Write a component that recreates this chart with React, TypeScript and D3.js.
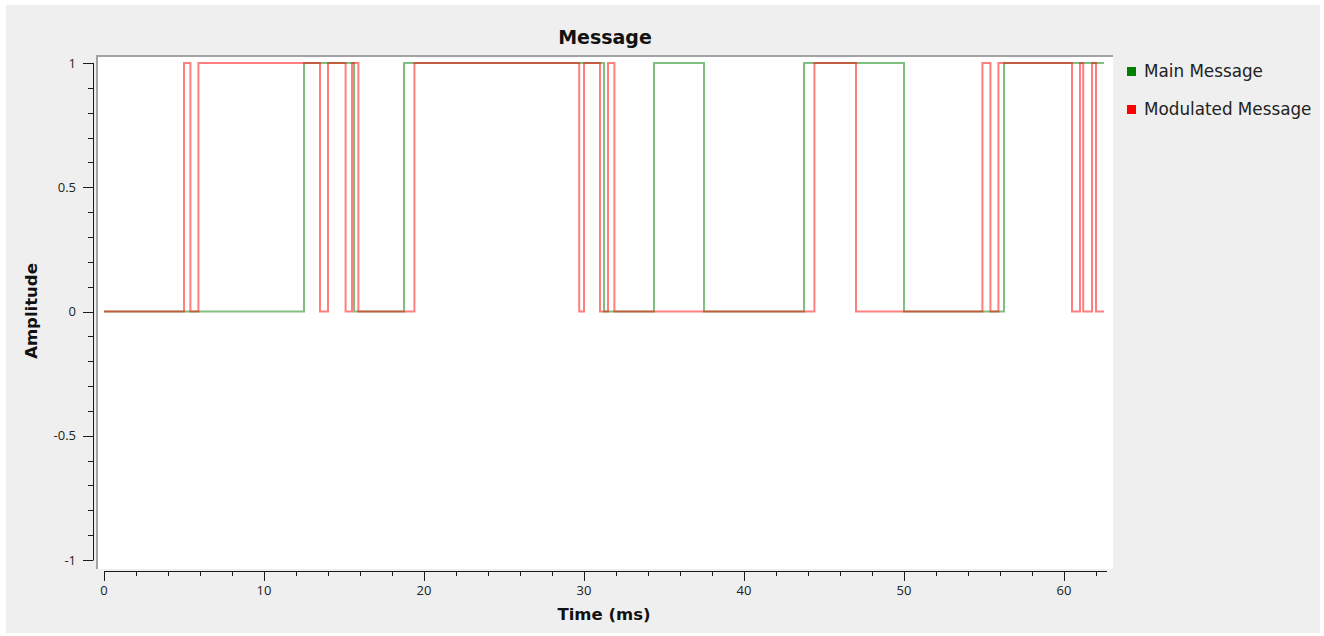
import React from "react";
import * as d3 from "d3";

const mainTimes = [0, 12.5, 15.625, 18.75, 31.25, 34.375, 37.5, 43.75, 50, 56.25, 62.5];
const mainLevels = [0, 1, 0, 1, 0, 1, 0, 1, 0, 1, 1];

const modTimes = [0, 5.0, 5.4, 5.9, 13.5, 14.0, 15.1, 15.5, 15.9, 19.4, 29.7, 30.0, 31.0, 31.5, 31.9, 44.4, 47.0, 54.9, 55.4, 55.9, 60.5, 61.0, 61.2, 61.75, 62.0, 62.5];
const modLevels = [0, 1, 0, 1, 0, 1, 0, 1, 0, 1, 0, 1, 0, 1, 0, 1, 0, 1, 0, 1, 0, 1, 0, 1, 0, 0];

const xMajorTicks = [0, 10, 20, 30, 40, 50, 60];
const yMajorTicks = [1, 0.5, 0, -0.5, -1];
const yTickLabels = ["1", "0.5", "0", "-0.5", "-1"];

const seriesNames = ["Main Message", "Modulated Message"];
const seriesColors = ["rgb(0,128,0)", "rgb(255,0,0)"];

const W = 1324;
const H = 636;

export default function App() {
  const x = d3.scaleLinear().domain([0, 62.5]).range([104, 1104]);
  const y = d3.scaleLinear().domain([-1, 1]).range([560, 63]);

  const line = d3
    .line<[number, number]>()
    .x((d) => x(d[0]))
    .y((d) => y(d[1]))
    .curve(d3.curveStepAfter);

  const mainPts: [number, number][] = mainTimes.map((t, i) => [t, mainLevels[i]]);
  const modPts: [number, number][] = modTimes.map((t, i) => [t, modLevels[i]]);

  const xMinor = d3.range(0, 63, 2).filter((v) => v % 10 !== 0);
  const yMinor = d3.range(-10, 11).map((v) => v / 10).filter((v) => Math.abs(v * 2 - Math.round(v * 2)) > 1e-6);

  const font = "'Open Sans', 'DejaVu Sans', sans-serif";
  const boldFont = "'DejaVu Sans', sans-serif";
  const tickColor = "#1a1a1a";

  return (
    <div style={{ position: "absolute", left: 0, top: 0 }}>
      <svg width={W} height={H} style={{ display: "block" }}>
        <rect x={0} y={0} width={W} height={H} fill="#ffffff" />
        <rect x={6} y={5} width={1314} height={628} fill="#efefef" />
        {/* canvas */}
        <rect x={97} y={56} width={1016} height={513} fill="#ffffff" />
        <line x1={96} y1={56} x2={1113} y2={56} stroke="#a3a3a3" strokeWidth={2} />
        <line x1={97} y1={55} x2={97} y2={569} stroke="#a3a3a3" strokeWidth={2} />

        {/* title */}
        <text x={605} y={44} textAnchor="middle" fontFamily={boldFont} fontWeight="bold" fontSize={19} fill="#111">
          Message
        </text>

        {/* y axis */}
        <line x1={93.5} y1={y(1)} x2={93.5} y2={y(-1)} stroke={tickColor} strokeWidth={1} />
        {yMajorTicks.map((v, i) => (
          <g key={"ym" + i}>
            <line x1={83} x2={93.5} y1={Math.round(y(v)) + 0.5} y2={Math.round(y(v)) + 0.5} stroke={tickColor} />
            <text x={76} y={y(v) + 4.5} textAnchor="end" fontFamily={font} fontSize={13} fill="#222">
              {yTickLabels[i]}
            </text>
          </g>
        ))}
        {yMinor.map((v, i) => (
          <line key={"yn" + i} x1={88} x2={93.5} y1={Math.round(y(v)) + 0.5} y2={Math.round(y(v)) + 0.5} stroke={tickColor} />
        ))}
        <text
          transform={`translate(37,${311}) rotate(-90)`}
          textAnchor="middle"
          fontFamily={boldFont}
          fontWeight="bold"
          fontSize={16.5}
          fill="#111"
        >
          Amplitude
        </text>

        {/* x axis */}
        <line x1={x(0)} y1={571.5} x2={1107} y2={571.5} stroke={tickColor} strokeWidth={1} />
        {xMajorTicks.map((v, i) => (
          <g key={"xm" + i}>
            <line x1={Math.round(x(v)) + 0.5} x2={Math.round(x(v)) + 0.5} y1={571} y2={581} stroke={tickColor} />
            <text x={x(v)} y={595} textAnchor="middle" fontFamily={font} fontSize={13} fill="#222">
              {String(v)}
            </text>
          </g>
        ))}
        {xMinor.map((v, i) => (
          <line key={"xn" + i} x1={Math.round(x(v)) + 0.5} x2={Math.round(x(v)) + 0.5} y1={571} y2={576} stroke={tickColor} />
        ))}
        <text x={604} y={620} textAnchor="middle" fontFamily={boldFont} fontWeight="bold" fontSize={16.5} fill="#111">
          Time (ms)
        </text>

        {/* series */}
        <path d={line(mainPts) || ""} fill="none" stroke={seriesColors[0]} strokeOpacity={0.5} strokeWidth={2} />
        <path d={line(modPts) || ""} fill="none" stroke={seriesColors[1]} strokeOpacity={0.5} strokeWidth={2} />

        {/* legend */}
        {seriesNames.map((name, i) => (
          <g key={"lg" + i}>
            <rect x={1127} y={67 + i * 38} width={9} height={9} fill={seriesColors[i]} />
            <text x={1144} y={77 + i * 38} fontFamily={boldFont} fontSize={16.8} fill="#222">
              {name}
            </text>
          </g>
        ))}
      </svg>
    </div>
  );
}
